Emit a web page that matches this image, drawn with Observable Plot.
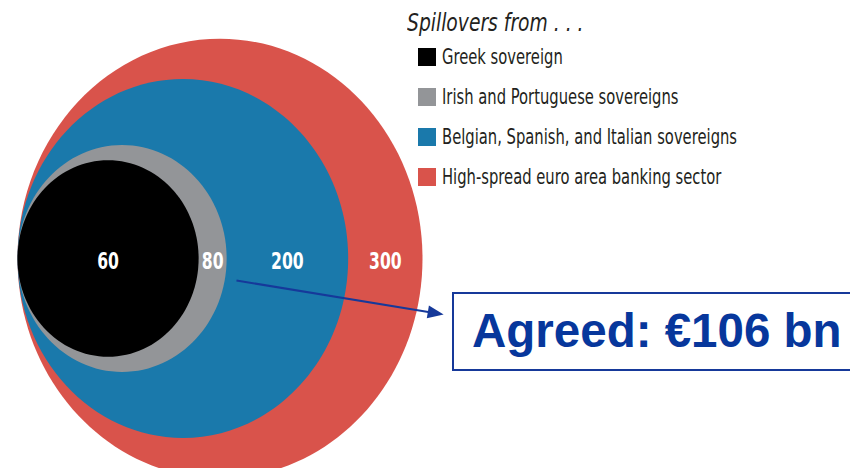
<!DOCTYPE html>
<html>
<head>
<meta charset="utf-8">
<script src="https://cdn.jsdelivr.net/npm/d3@7"></script>
<script src="https://cdn.jsdelivr.net/npm/@observablehq/plot@0.6"></script>
<style>
  html, body { margin: 0; padding: 0; background: #fff; }
  #wrap { position: relative; width: 850px; height: 468px; overflow: hidden; }
  #wrap svg { position: absolute; left: 0; top: 0; }
  .legend { position: absolute; left: 407px; top: 8px; color: #231f20;
            font-family: "DejaVu Sans", sans-serif; }
  .legend .title { font-style: italic; font-size: 24px; line-height: 30px; white-space: nowrap;
                   transform: scaleX(0.78); transform-origin: 0 0; }
  .legend .row { position: absolute; left: 11px; white-space: nowrap; font-size: 20.5px; line-height: 20px; }
  .legend .sw { position: absolute; left: 0; top: 0; width: 18px; height: 18px; }
  .legend .lab { position: absolute; left: 24px; top: -1px; transform: scaleX(0.72); transform-origin: 0 0; }
  .box { position: absolute; left: 452px; top: 292px; width: 420px; height: 75px;
         border: 2px solid #16399a; box-sizing: content-box; }
  .box span { position: absolute; left: 18px; top: 9px; font-family: "Liberation Sans", Arial, sans-serif;
              font-weight: bold; font-size: 47.5px; color: #07379c; white-space: nowrap; }
</style>
</head>
<body>
<div id="wrap"></div>
<script>
// Data
const categories = ["High-spread euro area banking sector", "Belgian, Spanish, and Italian sovereigns", "Irish and Portuguese sovereigns", "Greek sovereign"];
const values = [300, 200, 80, 60];
const colors = ["#d9534b", "#1a79ab", "#939598", "#000000"];
const legendTitle = "Spillovers from . . .";
const legendOrder = ["Greek sovereign", "Irish and Portuguese sovereigns", "Belgian, Spanish, and Italian sovereigns", "High-spread euro area banking sector"];
const boxText = "Agreed: €106 bn";
// annotation arrow (chart units: x in sqrt-of-value units, y in px)
const arrow = {x1: 18.73, y1: 280, x2: 36.45, y2: 314};

const rings = categories.map((c, i) => ({category: c, value: values[i], color: colors[i]}));
// label positions: middle of each ring (between previous inner edge and own outer edge)
const sorted = rings.slice().sort((a, b) => a.value - b.value);
sorted.forEach((d, i) => { d.lx = Math.sqrt(d.value) + (i ? Math.sqrt(sorted[i - 1].value) : 0); });

const LEFT = 17, RMAX = 202.5, CY = 258, STRETCH = 1.085;
const pxPerUnit = RMAX / Math.sqrt(300);

// Ellipse symbol (the original figure is slightly stretched vertically)
const ellipse = {
  draw(ctx, size) {
    const r = Math.sqrt(size / Math.PI), ry = r * STRETCH, k = 0.5522847498;
    ctx.moveTo(r, 0);
    ctx.bezierCurveTo(r, ry * k, r * k, ry, 0, ry);
    ctx.bezierCurveTo(-r * k, ry, -r, ry * k, -r, 0);
    ctx.bezierCurveTo(-r, -ry * k, -r * k, -ry, 0, -ry);
    ctx.bezierCurveTo(r * k, -ry, r, -ry * k, r, 0);
    ctx.closePath();
  }
};
const head = {
  draw(ctx) {
    ctx.moveTo(0, 0); ctx.lineTo(-16, -6.5); ctx.lineTo(-16, 6.5); ctx.closePath();
  }
};
const angle = Math.atan2(arrow.y2 - arrow.y1, (arrow.x2 - arrow.x1) * pxPerUnit) * 180 / Math.PI;
const hl = 14 / pxPerUnit * Math.cos(angle * Math.PI / 180);

const plot = Plot.plot({
  width: 850,
  height: 468,
  margin: 0,
  x: {domain: [0, Math.sqrt(300)], range: [LEFT, LEFT + RMAX], axis: null},
  y: {domain: [0, 468], range: [0, 468], axis: null},
  r: {type: "sqrt", domain: [0, 300], range: [0, RMAX]},
  color: {domain: categories, range: colors},
  marks: [
    Plot.dot(rings, {x: d => Math.sqrt(d.value), y: () => CY, r: "value", fill: "category", symbol: ellipse, sort: {channel: "-r"}}),
    Plot.text(sorted, {x: "lx", y: () => 261, text: d => String(d.value), fill: "white",
      fontFamily: "'DejaVu Sans', sans-serif", fontWeight: "bold", fontSize: 23, className: "ringlabel"}),
    Plot.link([arrow], {x1: "x1", y1: "y1", x2: d => d.x2 - hl, y2: d => d.y2 - 14 * Math.sin(angle * Math.PI / 180), stroke: "#16399a", strokeWidth: 2}),
    Plot.dot([arrow], {x: "x2", y: "y2", symbol: head, r: 5, fill: "#16399a", rotate: angle, stroke: "none"})
  ]
});

// condense the ring labels horizontally (original uses a condensed typeface)
d3.select(plot).selectAll(".ringlabel text").each(function () {
  const tr = this.getAttribute("transform") || "";
  this.setAttribute("transform", tr + " scale(0.68,1)");
});

const wrap = document.getElementById("wrap");
wrap.appendChild(plot);

// legend
const legend = document.createElement("div");
legend.className = "legend";
const t = document.createElement("div");
t.className = "title"; t.textContent = legendTitle;
legend.appendChild(t);
legendOrder.forEach((name, i) => {
  const row = document.createElement("div");
  row.className = "row";
  row.style.top = (40 + 40 * i) + "px";
  const sw = document.createElement("div");
  sw.className = "sw";
  sw.style.background = colors[categories.indexOf(name)];
  const lab = document.createElement("div");
  lab.className = "lab"; lab.textContent = name;
  row.appendChild(sw); row.appendChild(lab);
  legend.appendChild(row);
});
wrap.appendChild(legend);

// annotation box
const box = document.createElement("div");
box.className = "box";
const s = document.createElement("span");
s.textContent = boxText;
box.appendChild(s);
wrap.appendChild(box);
</script>
</body>
</html>
